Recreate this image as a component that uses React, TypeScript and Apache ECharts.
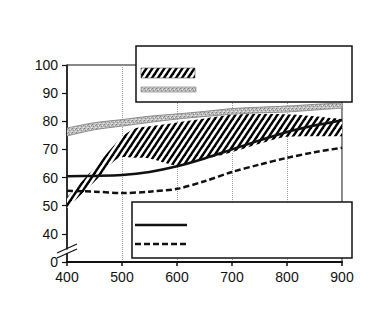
import React, { useEffect, useRef } from 'react';
import * as echarts from 'echarts';

// ---- data ----
const xCategories = ['400', '425', '450', '475', '500', '525', '550', '575', '600', '625', '650', '675', '700', '725', '750', '775', '800', '825', '850', '875', '900'];
const xTickLabels = ['400', '500', '600', '700', '800', '900'];
const yTickValues = [30, 40, 50, 60, 70, 80, 90, 100]; // 30 is shown as "0" (broken axis)

const lineXs = ['400', '450', '500', '550', '600', '650', '700', '750', '800', '850', '900'];
const solidValues = [60.5, 60.6, 60.9, 62, 64, 66.8, 70, 73.2, 76.2, 78.5, 80.4];
const dashedValues = [55.3, 55, 54.5, 55, 56, 58.7, 62, 64.6, 67, 69, 70.6];

const grayXs = ['400', '450', '500', '550', '600', '650', '700', '750', '800', '850', '900'];
const grayLower = [74.8, 77, 78.3, 79.6, 80.8, 81.7, 82.5, 83, 83.3, 84, 84.7];
const grayUpper = [77.6, 79.5, 80.6, 81.8, 82.6, 83.5, 84.5, 85, 85.4, 86, 86.5];

const hatchXs = ['400', '450', '500', '525', '550', '600', '650', '700', '750', '800', '850', '900'];
const hatchLower = [49, 58.5, 67.3, 67, 66.8, 64.3, 66.5, 69, 72, 74.5, 74.7, 74.7];
const hatchUpper = [53, 63.5, 74.5, 77.5, 78.2, 79.6, 81, 82.3, 82.6, 82.5, 81.8, 80.8];

function makeHatch(): HTMLCanvasElement {
  const w = 6, h = 9;
  const c = document.createElement('canvas');
  c.width = w; c.height = h;
  const ctx = c.getContext('2d')!;
  ctx.fillStyle = '#ffffff';
  ctx.fillRect(0, 0, w, h);
  ctx.strokeStyle = '#000000';
  ctx.lineWidth = 2.4;
  for (let k = -1; k <= 1; k++) {
    ctx.beginPath();
    ctx.moveTo(k * w - 0.5 * w, 1.5 * h);
    ctx.lineTo(k * w + 1.5 * w, -0.5 * h);
    ctx.stroke();
  }
  return c;
}

function makeStipple(): HTMLCanvasElement {
  const c = document.createElement('canvas');
  c.width = 4; c.height = 4;
  const ctx = c.getContext('2d')!;
  ctx.fillStyle = '#bcbcbc';
  ctx.fillRect(0, 0, 4, 4);
  const px = (x: number, y: number, col: string) => { ctx.fillStyle = col; ctx.fillRect(x, y, 1, 1); };
  px(0, 0, '#7e7e7e'); px(2, 1, '#ececec'); px(1, 2, '#8a8a8a'); px(3, 3, '#e4e4e4'); px(3, 1, '#999999'); px(0, 3, '#d6d6d6');
  return c;
}

const pairs = (xs: string[], ys: number[]) => xs.map((x, i) => [x, ys[i]]);
const isMajor = (_i: number, v: string) => xTickLabels.includes(String(v));

export default function App() {
  const ref = useRef<HTMLDivElement>(null);
  useEffect(() => {
    if (!ref.current) return;
    const chart = echarts.init(ref.current, null, { renderer: 'svg' });
    const hatch = { image: makeHatch(), repeat: 'repeat' } as any;
    const stipple = { image: makeStipple(), repeat: 'repeat' } as any;
    const font = '"Liberation Sans", Arial, sans-serif';

    chart.setOption({
      animation: false,
      backgroundColor: '#ffffff',
      grid: { left: 67, top: 65, width: 275, height: 197, show: true, borderColor: '#111', borderWidth: 1, backgroundColor: 'transparent' },
      xAxis: {
        type: 'category', data: xCategories, boundaryGap: false,
        axisLine: { show: true, lineStyle: { color: '#111', width: 2 } },
        axisTick: { show: true, length: 4, interval: isMajor, lineStyle: { color: '#111', width: 1.5 } },
        axisLabel: { color: '#111', fontSize: 14, fontFamily: font, margin: 8, interval: isMajor },
        splitLine: { show: true, interval: isMajor, lineStyle: { color: '#9a9a9a', type: 'dotted', width: 1 } },
      },
      yAxis: {
        type: 'value', min: 30, max: 100, interval: 10,
        axisLine: { show: true, lineStyle: { color: '#111', width: 1.5 } },
        axisTick: { show: true, length: 5, lineStyle: { color: '#111', width: 1.2 } },
        axisLabel: { color: '#111', fontSize: 14, fontFamily: font, margin: 9,
          formatter: (v: number) => (yTickValues.includes(v) ? (v === 30 ? '0' : String(v)) : '') },
        splitLine: { show: false },
      },
      series: [
        { type: 'line', data: pairs(grayXs, grayLower), stack: 'gray', symbol: 'none', smooth: 0.3,
          lineStyle: { color: '#8c8c8c', width: 1 }, z: 2 },
        { type: 'line', data: grayXs.map((x, i) => [x, +(grayUpper[i] - grayLower[i]).toFixed(2)]), stack: 'gray', symbol: 'none', smooth: 0.3,
          lineStyle: { color: '#8c8c8c', width: 1 }, areaStyle: { color: stipple, opacity: 1 }, z: 2 },
        { type: 'line', data: pairs(hatchXs, hatchLower), stack: 'hatch', symbol: 'none', smooth: 0.25,
          lineStyle: { width: 0, opacity: 0 }, z: 3 },
        { type: 'line', data: hatchXs.map((x, i) => [x, +(hatchUpper[i] - hatchLower[i]).toFixed(2)]), stack: 'hatch', symbol: 'none', smooth: 0.25,
          lineStyle: { width: 0, opacity: 0 }, areaStyle: { color: hatch, opacity: 1 }, z: 3 },
        { type: 'line', data: pairs(lineXs, solidValues), symbol: 'none', smooth: 0.3,
          lineStyle: { color: '#111', width: 2.5 }, z: 4 },
        { type: 'line', data: pairs(lineXs, dashedValues), symbol: 'none', smooth: 0.3,
          lineStyle: { color: '#111', width: 2.5, type: [6, 3] }, z: 4 },
      ],
      graphic: [
        // y-axis break
        { type: 'rect', z: 100, shape: { x: 63, y: 249.5, width: 8, height: 3.5 }, style: { fill: '#ffffff' } },
        { type: 'line', z: 101, shape: { x1: 57, y1: 253, x2: 77, y2: 244 }, style: { stroke: '#111', lineWidth: 1.3 } },
        { type: 'line', z: 101, shape: { x1: 57, y1: 258, x2: 77, y2: 249 }, style: { stroke: '#111', lineWidth: 1.3 } },
        // legend 1
        { type: 'rect', z: 100, shape: { x: 136, y: 46, width: 216, height: 56 }, style: { fill: '#ffffff', stroke: '#111', lineWidth: 1.5 } },
        { type: 'rect', z: 101, shape: { x: 141, y: 68, width: 54, height: 10 }, style: { fill: hatch, stroke: '#555', lineWidth: 0.6 } },
        { type: 'rect', z: 101, shape: { x: 141, y: 87, width: 55, height: 5 }, style: { fill: stipple, stroke: '#777', lineWidth: 0.6 } },
        // legend 2
        { type: 'rect', z: 100, shape: { x: 132, y: 202, width: 220, height: 56 }, style: { fill: '#ffffff', stroke: '#111', lineWidth: 1.5 } },
        { type: 'line', z: 101, shape: { x1: 135, y1: 225, x2: 187, y2: 225 }, style: { stroke: '#111', lineWidth: 2.5 } },
        { type: 'line', z: 101, shape: { x1: 135, y1: 244, x2: 187, y2: 244 }, style: { stroke: '#111', lineWidth: 2.5, lineDash: [6, 3] } },
      ],
    });
    return () => chart.dispose();
  }, []);
  return <div ref={ref} style={{ position: 'fixed', left: 0, top: 0, width: 388, height: 324 }} />;
}
